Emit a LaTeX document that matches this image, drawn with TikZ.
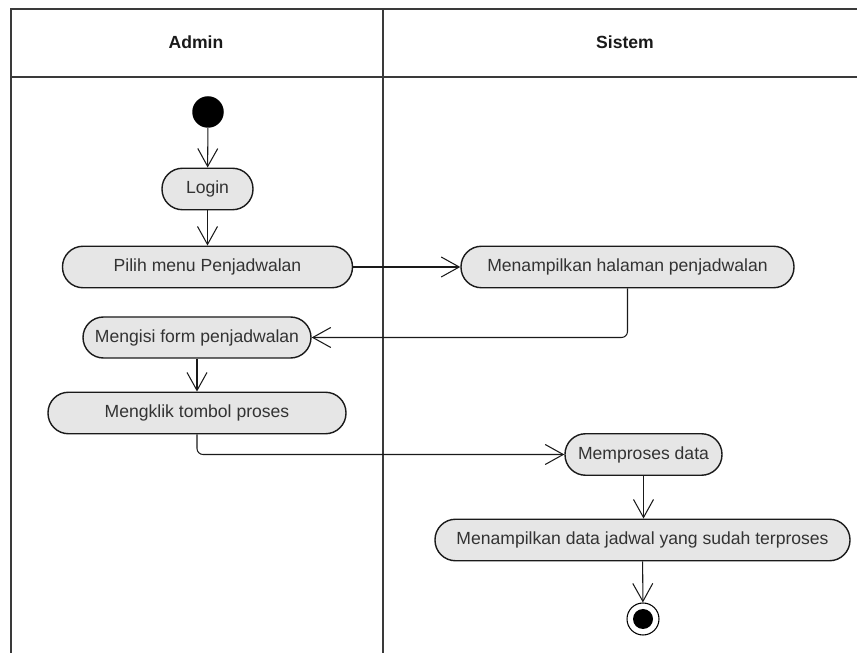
\documentclass[tikz,border=0pt]{standalone}
\usepackage{fontspec}
\setmainfont{Liberation Sans}
\usetikzlibrary{positioning,arrows.meta}
\definecolor{ink}{HTML}{1A1A1A}
\definecolor{inksoft}{HTML}{333333}
\definecolor{lanec}{HTML}{3A3A3A}
\definecolor{actfill}{HTML}{E6E6E6}

\begin{document}
\begin{tikzpicture}[
  font=\fontsize{10}{12}\selectfont,
  every node/.style={font=\fontsize{10}{12}\selectfont},
  action/.style={
    rectangle, rounded corners=0.41cm,
    draw=ink, line width=0.8pt,
    fill=actfill, text=inksoft,
    minimum height=0.83cm, align=center,
    inner sep=2pt
  },
  startnode/.style={circle, fill=black, minimum size=0.63cm, inner sep=0pt},
  stopnode/.style={
    circle, draw=black, line width=0.6pt, fill=white,
    minimum size=0.64cm, inner sep=0pt,
    path picture={\fill[black] (path picture bounding box.center) circle (0.2cm);}
  },
  lanehead/.style={font=\fontsize{10}{12}\selectfont\bfseries, text=ink},
  laneline/.style={draw=lanec, line width=0.9pt},
  arr/.style={->, >={Straight Barb[length=3.6mm,width=4mm]}, line width=0.6pt, draw=ink, rounded corners=0.12cm}
]
\useasboundingbox (0,0) rectangle (17.14,-13.06);

% --- SWIMLANES ---
\draw[laneline] (0.22,-13.06) -- (0.22,-0.18) -- (17.14,-0.18);
\draw[laneline] (0.22,-1.54) -- (17.14,-1.54);
\draw[laneline] (7.66,-0.18) -- (7.66,-13.06);
\node[lanehead] (hadmin) at (3.92,-0.84) {Admin};
\node[lanehead] (hsistem) at (12.5,-0.84) {Sistem};

% --- ADMIN ---
\node[startnode] (start) at (4.16,-2.24) {};
\node[action, minimum width=1.82cm] (login) at (4.15,-3.78) {Login};
\node[action, minimum width=5.8cm] (pilih) at (4.15,-5.34) {Pilih menu Penjadwalan};
\node[action, minimum width=4.56cm, minimum height=0.82cm] (isi) at (3.94,-6.75) {Mengisi form penjadwalan};
\node[action, minimum width=5.96cm] (klik) at (3.94,-8.26) {Mengklik tombol proses};

% --- SISTEM ---
\node[action, minimum width=6.66cm] (halaman) at (12.55,-5.34) {Menampilkan halaman penjadwalan};
\node[action, minimum width=3.14cm] (proses) at (12.87,-9.09) {Memproses data};
\node[action, minimum width=8.3cm] (tampil) at (12.85,-10.8) {Menampilkan data jadwal yang sudah terproses};
\node[stopnode] (stop) at (12.86,-12.38) {};

% flow
\draw[arr] (start) -- (login);
\draw[arr] (login) -- (pilih);
\draw[arr] (pilih) -- (halaman);
\draw[arr] (halaman.south) |- (isi.east);
\draw[arr] (isi) -- (isi |- klik.north);
\draw[arr] (klik.south) |- (proses.west);
\draw[arr] (proses) -- (proses |- tampil.north);
\draw[arr] (tampil) -- (stop);

\end{tikzpicture}
\end{document}
